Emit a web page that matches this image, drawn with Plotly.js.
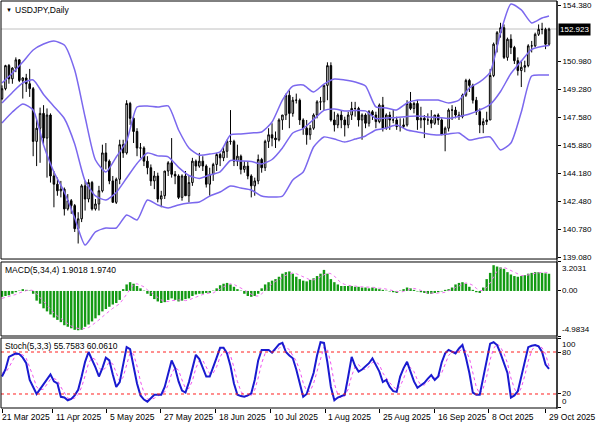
<!DOCTYPE html>
<html>
<head>
<meta charset="utf-8">
<script src="https://cdn.plot.ly/plotly-3.0.1.min.js"></script>
<style>
html,body{margin:0;padding:0;background:#fff;}
#chart{width:596px;height:425px;}
</style>
</head>
<body>
<div id="chart"></div>
<script>
// ---------- DATA ----------
const tickLabels = ['21 Mar 2025','11 Apr 2025','5 May 2025','27 May 2025','18 Jun 2025','10 Jul 2025','1 Aug 2025','25 Aug 2025','16 Sep 2025','8 Oct 2025','29 Oct 2025'];
const tickBars = [0, 14.7, 30.3, 45.9, 61.8, 77.6, 93.3, 109.1, 125.0, 140.6, 157.0];

const open = [148.70,149.30,150.70,149.90,150.55,151.05,149.80,149.95,149.60,149.30,
146.10,146.90,147.80,146.30,147.70,144.00,143.50,143.10,143.20,142.00,
142.50,142.20,140.80,141.40,143.40,142.60,143.60,142.00,142.30,143.10,
145.40,144.90,143.70,142.40,143.80,145.90,145.40,148.40,147.50,146.70,
145.70,145.70,144.90,144.50,143.70,144.00,142.60,142.80,144.30,144.80,
144.10,144.00,142.70,144.00,142.80,143.60,144.90,144.60,144.90,144.60,
143.50,144.10,144.70,145.30,145.10,145.50,146.10,146.10,144.90,145.20,
144.40,144.60,144.00,143.40,143.70,145.00,144.50,146.10,146.50,146.30,
146.20,147.40,147.70,148.90,147.80,148.60,148.60,147.40,146.90,146.50,
146.90,147.70,148.50,148.50,149.50,150.70,147.40,147.10,147.70,147.40,
147.10,147.70,148.10,148.10,147.40,147.70,147.20,147.90,147.70,147.30,
148.30,146.90,147.70,147.40,147.40,147.00,147.00,147.10,148.40,148.10,
148.40,147.40,147.50,147.40,147.40,147.20,147.70,147.40,146.50,146.90,
148.00,148.00,147.70,147.60,148.90,149.80,149.50,148.60,147.90,147.10,
147.30,147.40,150.10,152.00,152.70,153.00,151.20,152.30,151.80,151.00,
150.40,150.60,150.70,151.90,151.90,152.60,152.90,152.90,152.00];
const high = [149.50,150.75,150.80,150.60,151.20,151.10,150.00,150.20,150.50,149.40,
147.40,148.15,148.30,148.10,147.80,144.30,143.90,143.70,143.30,142.90,
142.60,142.30,141.80,143.50,143.70,143.80,143.70,142.60,143.40,145.90,
146.00,145.00,144.00,143.90,146.20,146.20,148.60,148.50,147.70,146.90,
146.00,145.80,145.20,144.70,144.30,144.20,143.10,144.30,144.90,146.30,
144.30,144.10,144.10,144.30,144.00,145.10,145.00,145.40,145.20,144.70,
144.50,144.80,145.40,145.40,145.80,146.20,148.00,146.20,145.90,145.30,
144.90,144.90,144.10,143.90,145.30,145.10,146.20,146.90,147.20,146.70,
147.50,147.70,149.00,149.20,148.80,149.00,148.70,147.50,147.40,147.10,
147.80,148.60,148.80,149.50,150.90,150.90,147.90,147.80,148.00,147.60,
147.90,148.50,148.50,148.20,147.80,147.80,148.00,148.00,147.90,148.40,
148.80,147.80,147.90,148.00,147.60,147.50,147.50,148.60,149.10,148.50,
148.60,148.20,147.70,147.80,148.00,147.70,147.80,147.50,147.00,148.10,
148.30,148.20,147.90,149.00,149.90,149.90,149.60,148.80,148.10,147.50,
147.90,150.50,152.10,152.80,153.30,153.20,152.40,152.60,151.90,151.20,
151.00,151.00,152.00,152.20,152.70,153.20,153.30,153.00,153.00];
const low = [148.60,149.20,149.60,149.60,150.30,149.70,148.70,149.10,148.80,145.20,
144.60,144.80,145.90,143.90,143.60,142.10,142.80,142.70,141.60,141.90,
141.70,140.60,139.90,141.20,141.90,142.40,141.90,141.90,141.90,143.00,
144.40,143.50,142.40,142.30,143.50,145.10,145.30,147.10,146.00,145.20,
145.10,144.60,144.10,143.40,143.20,142.40,142.10,142.60,144.00,143.90,
143.50,142.60,142.50,142.80,142.40,143.40,144.30,144.50,144.30,143.30,
142.80,143.70,144.30,144.60,144.90,145.10,145.90,144.60,144.60,144.10,
144.20,143.80,142.70,142.80,143.50,144.20,144.30,145.70,145.80,145.70,
146.10,146.80,147.40,146.90,147.60,148.40,147.10,146.50,145.90,146.20,
146.80,147.50,148.00,148.00,148.60,147.30,146.70,146.90,146.90,146.40,
146.90,147.40,147.60,147.00,146.20,146.90,147.00,147.40,146.90,147.20,
146.70,146.80,146.80,147.20,146.80,146.70,146.90,147.00,148.00,147.80,
146.80,146.90,146.30,147.10,146.90,147.10,147.10,146.50,145.50,146.70,
147.40,147.50,147.40,147.50,148.80,149.10,148.40,147.70,146.60,146.60,
147.10,147.40,150.00,151.50,152.40,151.10,151.00,151.40,150.80,150.10,
149.40,150.30,150.60,151.50,151.80,152.50,152.60,151.70,151.90];
const close = [149.30,150.70,149.90,150.55,151.05,149.80,149.95,149.60,149.30,146.10,
146.90,147.80,146.30,147.70,144.00,143.50,143.10,143.20,142.00,142.50,
142.20,140.80,141.40,143.40,142.60,143.60,142.00,142.30,143.10,145.40,
144.90,143.70,142.40,143.80,145.90,145.40,148.40,147.50,146.70,145.70,
145.70,144.90,144.50,143.70,144.00,142.60,142.80,144.30,144.80,144.10,
144.00,142.70,144.00,142.80,143.60,144.90,144.60,144.90,144.60,143.50,
144.10,144.70,145.30,145.10,145.50,146.10,146.10,144.90,145.20,144.40,
144.60,144.00,143.40,143.70,145.00,144.50,146.10,146.50,146.30,146.20,
147.40,147.70,148.90,147.80,148.60,148.60,147.40,146.90,146.50,146.90,
147.70,148.50,148.50,149.50,150.70,147.40,147.10,147.70,147.40,147.10,
147.70,148.10,148.10,147.40,147.70,147.20,147.90,147.70,147.30,148.30,
146.90,147.70,147.40,147.40,147.00,147.00,147.10,148.40,148.10,148.40,
147.40,147.50,147.40,147.40,147.20,147.70,147.40,146.50,146.90,148.00,
148.00,147.70,147.60,148.90,149.80,149.50,148.60,147.90,147.10,147.30,
147.40,150.10,152.00,152.70,153.00,151.20,152.30,151.80,151.00,150.40,
150.60,150.70,151.90,151.90,152.60,152.90,152.90,152.00,152.92];

const bandBars = [0,3,6,9,12,15,18,21,24,27,30,33,36,39,42,45,48,51,54,57,60,63,66,69,72,75,78,81,84,87,90,93,96,99,102,105,108,111,114,117,120,123,126,129,132,135,138,141,144,147,150,153,156,158];
const bbUpper = [149.64,150.25,150.92,151.65,152.01,152.19,151.95,150.43,147.58,144.97,144.24,145.15,146.12,148.19,148.25,148.19,148.25,146.79,145.70,145.27,145.33,145.46,146.49,146.55,146.61,146.67,147.28,148.61,149.46,149.52,149.10,149.58,149.89,149.83,149.71,149.46,148.19,148.13,148.01,148.43,148.61,148.61,148.61,148.43,148.61,149.34,149.71,150.31,152.68,154.44,154.08,153.29,153.59,153.71];
const bbMiddle = [148.43,149.07,149.65,149.83,148.95,148.22,147.49,145.94,143.70,142.79,142.54,143.00,143.88,144.76,145.40,145.22,145.16,144.52,144.03,143.85,144.06,144.25,144.94,144.91,144.88,144.73,145.00,145.70,146.61,146.88,147.43,147.98,148.07,147.95,147.98,147.95,147.49,147.52,147.55,147.61,147.64,147.58,147.55,147.49,147.61,147.76,148.01,148.34,149.13,150.22,150.98,151.68,151.86,151.92];
const bbLower = [147.22,147.88,148.37,148.01,145.88,144.24,143.03,141.45,139.81,140.60,140.84,140.84,141.63,141.33,142.54,142.24,142.06,142.24,142.36,142.42,142.78,143.03,143.39,143.27,143.15,142.78,142.72,142.78,143.76,144.24,145.76,146.37,146.24,146.06,146.24,146.43,146.79,146.91,147.09,146.79,146.67,146.55,146.49,146.55,146.61,146.18,146.30,146.37,145.58,146.00,147.88,150.07,150.13,150.13];

const macdMain = [-0.65,-0.56,-0.48,-0.31,-0.14,0.04,0.20,0.12,0.04,-0.31,
-1.07,-1.41,-1.92,-2.26,-2.60,-2.94,-3.20,-3.45,-3.79,-3.96,
-4.13,-4.30,-4.35,-4.30,-3.96,-3.71,-3.37,-3.03,-2.69,-2.26,
-2.00,-1.75,-1.50,-1.33,-0.99,0.20,0.72,0.97,0.80,0.55,
0.29,0.04,-0.31,-0.56,-0.90,-1.16,-1.33,-1.24,-0.99,-0.82,
-0.99,-1.16,-1.07,-0.90,-0.82,-0.56,-0.39,-0.31,-0.31,-0.22,
-0.22,0.04,0.29,0.63,0.80,0.89,0.72,0.46,0.20,0.04,
-0.31,-0.56,-0.65,-0.56,-0.31,0.29,0.72,0.97,1.14,1.31,
1.57,1.91,2.08,2.16,1.91,1.57,1.31,1.14,1.06,1.23,
1.40,1.65,1.91,2.33,1.91,1.31,0.97,0.72,0.55,0.55,
0.55,0.55,0.46,0.46,0.38,0.38,0.29,0.38,0.29,0.20,
0.12,0.04,-0.05,-0.14,-0.22,0.04,0.20,0.38,0.29,0.12,
-0.05,-0.14,-0.22,-0.31,-0.31,-0.22,-0.14,-0.05,0.12,0.20,
0.38,0.72,0.89,0.97,0.80,0.46,0.12,-0.14,-0.22,0.38,
1.31,2.00,2.85,2.70,2.60,2.45,2.08,1.82,1.65,1.57,
1.65,1.74,1.91,2.00,2.08,2.08,2.00,1.95,1.9018];
const macdSignal = [-0.82,-0.73,-0.65,-0.48,-0.39,-0.22,-0.05,0.04,0.12,0.04,
-0.31,-0.73,-1.16,-1.67,-2.09,-2.43,-2.77,-3.03,-3.37,-3.62,
-3.88,-4.05,-4.13,-4.22,-4.13,-4.05,-3.79,-3.54,-3.20,-2.86,
-2.52,-2.18,-1.92,-1.67,-1.41,-0.90,-0.39,0.20,0.72,0.80,
0.63,0.46,0.12,-0.14,-0.48,-0.73,-0.99,-1.16,-1.16,-1.07,
-0.99,-0.99,-0.99,-1.07,-0.99,-0.82,-0.65,-0.56,-0.39,-0.31,
-0.22,-0.22,-0.05,0.20,0.46,0.63,0.80,0.72,0.55,0.38,
0.12,-0.14,-0.39,-0.56,-0.56,-0.31,0.04,0.46,0.80,1.06,
1.23,1.48,1.74,1.91,2.00,1.91,1.74,1.48,1.31,1.23,
1.23,1.31,1.57,1.82,2.00,1.91,1.65,1.23,0.89,0.72,
0.63,0.55,0.55,0.46,0.46,0.46,0.38,0.38,0.38,0.29,
0.29,0.20,0.12,0.04,-0.05,-0.14,-0.05,0.12,0.20,0.29,
0.20,0.04,-0.05,-0.22,-0.22,-0.31,-0.22,-0.22,-0.14,0.04,
0.12,0.38,0.55,0.72,0.89,0.80,0.63,0.29,0.04,0.04,
0.38,0.89,1.60,2.20,2.50,2.60,2.45,2.25,2.05,1.85,
1.70,1.70,1.75,1.85,1.95,2.02,2.05,2.05,1.974];

const stochMain = [45,55,73,76,78,77,72,64,40,30,
20,27,34,40,48,38,35,16,15,11,
13,18,26,45,66,80,70,58,45,57,
72,68,48,30,37,65,87,84,60,35,
18,12,9,14,19,19,19,30,50,68,
57,38,25,22,37,58,76,70,58,45,
45,60,72,86,86,78,60,35,19,17,
16,18,21,40,68,83,83,83,79,85,
91,93,80,75,71,55,37,16,20,35,
50,75,94,93,65,30,11,15,17,19,
45,73,60,52,55,59,64,71,62,52,
37,40,30,24,23,45,57,66,52,38,
29,33,36,42,47,40,45,65,78,83,
80,78,85,90,72,50,22,19,19,45,
70,92,94,90,78,65,50,15,18,24,
45,70,87,89,90,88,80,62,55.7583];
const stochSignal = [50,50,58,68,76,77,76,71,59,45,
30,26,27,34,41,42,40,30,22,14,
13,14,19,30,46,64,72,69,58,53,
58,66,63,49,38,44,63,79,77,60,
38,22,13,12,14,17,19,23,33,49,
58,54,40,28,28,39,57,68,68,58,
49,50,59,73,81,83,75,58,38,24,
17,17,18,26,43,64,78,83,82,82,
85,90,88,83,75,67,54,36,24,24,
35,53,73,87,84,63,35,19,14,17,
27,46,59,62,56,55,59,65,66,62,
50,43,36,31,26,31,42,56,58,52,
40,33,33,37,42,43,44,50,63,75,
80,80,81,84,82,71,48,30,20,28,
45,69,85,92,87,78,64,43,28,19,
29,46,67,82,89,89,86,77,60.061];

// ---------- CHART ----------
const bars = close.map((_, i) => i);
const FONT = 'Liberation Sans, Arial, sans-serif';
const BAND = '#7b68ee';

const traces = [
  {type:'scatter', mode:'lines', x:bandBars, y:bbUpper, xaxis:'x', yaxis:'y', line:{color:BAND, width:1.5, shape:'spline', smoothing:0.6}, hoverinfo:'skip'},
  {type:'scatter', mode:'lines', x:bandBars, y:bbMiddle, xaxis:'x', yaxis:'y', line:{color:BAND, width:1.5, shape:'spline', smoothing:0.6}, hoverinfo:'skip'},
  {type:'scatter', mode:'lines', x:bandBars, y:bbLower, xaxis:'x', yaxis:'y', line:{color:BAND, width:1.5, shape:'spline', smoothing:0.6}, hoverinfo:'skip'},
  {type:'candlestick', x:bars, open:open, high:high, low:low, close:close, xaxis:'x', yaxis:'y',
   increasing:{line:{color:'#000000', width:1}, fillcolor:'#ffffff'},
   decreasing:{line:{color:'#000000', width:1}, fillcolor:'#000000'},
   whiskerwidth:0, hoverinfo:'skip'},
  {type:'bar', x:bars, y:macdMain, xaxis:'x2', yaxis:'y2', marker:{color:'#139a13', line:{width:0}}, hoverinfo:'skip'},
  {type:'scatter', mode:'lines', x:bars, y:macdSignal, xaxis:'x2', yaxis:'y2', line:{color:'#f070f0', width:1, dash:'dot'}, hoverinfo:'skip'},
  {type:'scatter', mode:'lines', x:bars, y:stochSignal, xaxis:'x3', yaxis:'y3', line:{color:'#f050f0', width:1, dash:'dot'}, hoverinfo:'skip'},
  {type:'scatter', mode:'lines', x:bars, y:stochMain, xaxis:'x3', yaxis:'y3', line:{color:'#1a1ad0', width:2}, hoverinfo:'skip'}
];

const xr = [-0.29, 160.31];
const xBase = {range:xr, showgrid:false, zeroline:false, showticklabels:false, ticks:'', showline:false, fixedrange:true};
const yBase = {side:'right', showgrid:false, zeroline:false, showline:false, fixedrange:true,
  tickfont:{family:FONT, size:8, color:'#000'}, ticks:'outside', ticklen:3, tickcolor:'#000'};

const mainTicks = [139.08,140.78,142.48,144.18,145.88,147.58,149.28,150.98,154.38];

const annotations = [
  {xref:'paper', yref:'paper', x:0, y:1, xanchor:'left', yanchor:'top', xshift:3, yshift:-4, text:'▼', showarrow:false, font:{family:FONT, size:6, color:'#000'}},
  {xref:'paper', yref:'paper', x:0, y:1, xanchor:'left', yanchor:'top', xshift:12, yshift:-2, text:'USDJPY,Daily', showarrow:false, font:{family:FONT, size:8.5, color:'#000'}},
  {xref:'paper', yref:'y2 domain', x:0, y:1, xanchor:'left', yanchor:'top', xshift:2, yshift:-1, text:'MACD(5,34,4) 1.9018 1.9740', showarrow:false, font:{family:FONT, size:8.5, color:'#000'}},
  {xref:'paper', yref:'y3 domain', x:0, y:1, xanchor:'left', yanchor:'top', xshift:2, yshift:-1, text:'Stoch(5,3,3) 55.7583 60.0610', showarrow:false, font:{family:FONT, size:8.5, color:'#000'}},
  {xref:'paper', yref:'y', x:1, y:152.923, xanchor:'left', yanchor:'middle', xshift:1, text:'152.923', showarrow:false, bgcolor:'#000', borderpad:1, font:{family:FONT, size:8, color:'#fff'}},
  {xref:'paper', yref:'y2 domain', x:1, y:1, xanchor:'left', yanchor:'top', xshift:3, text:'3.2031', showarrow:false, font:{family:FONT, size:8, color:'#000'}},
  {xref:'paper', yref:'y2', x:1, y:0, xanchor:'left', yanchor:'middle', xshift:3, text:'0.00', showarrow:false, font:{family:FONT, size:8, color:'#000'}},
  {xref:'paper', yref:'y2 domain', x:1, y:0, xanchor:'left', yanchor:'bottom', xshift:3, text:'-4.9834', showarrow:false, font:{family:FONT, size:8, color:'#000'}},
  {xref:'paper', yref:'y3 domain', x:1, y:1, xanchor:'left', yanchor:'top', xshift:3, text:'100', showarrow:false, font:{family:FONT, size:8, color:'#000'}},
  {xref:'paper', yref:'y3', x:1, y:80, xanchor:'left', yanchor:'middle', xshift:3, text:'80', showarrow:false, font:{family:FONT, size:8, color:'#000'}},
  {xref:'paper', yref:'y3', x:1, y:20, xanchor:'left', yanchor:'middle', xshift:3, text:'20', showarrow:false, font:{family:FONT, size:8, color:'#000'}},
  {xref:'paper', yref:'y3 domain', x:1, y:0, xanchor:'left', yanchor:'bottom', xshift:3, text:'0', showarrow:false, font:{family:FONT, size:8, color:'#000'}}
];
tickLabels.forEach((t, k) => {
  annotations.push({xref:'x3', yref:'paper', x:tickBars[k], y:0, xanchor:'left', yanchor:'top', xshift:(k === 0 ? -2 : 1), yshift:-1, text:t, showarrow:false, font:{family:FONT, size:8.5, color:'#000'}});
});

const shapes = [
  {type:'line', xref:'paper', yref:'y', x0:0, x1:1, y0:152.923, y1:152.923, line:{color:'#c0c0c0', width:1}, layer:'below'},
  {type:'line', xref:'paper', yref:'y3', x0:0, x1:1, y0:80, y1:80, line:{color:'#ff2020', width:1, dash:'dot'}},
  {type:'line', xref:'paper', yref:'y3', x0:0, x1:1, y0:20, y1:20, line:{color:'#ff2020', width:1, dash:'dot'}},
  {type:'rect', xref:'paper', yref:'y domain', x0:0, x1:1, y0:0, y1:1, line:{color:'#000', width:1}},
  {type:'rect', xref:'paper', yref:'y2 domain', x0:0, x1:1, y0:0, y1:1, line:{color:'#000', width:1}},
  {type:'rect', xref:'paper', yref:'y3 domain', x0:0, x1:1, y0:0, y1:1, line:{color:'#000', width:1}},
  {type:'line', xref:'paper', yref:'paper', x0:1, x1:1, y0:0, y1:1, line:{color:'#000', width:1}}
];

const layout = {
  width:596, height:425,
  margin:{l:1, r:39, t:1, b:16},
  paper_bgcolor:'#ffffff', plot_bgcolor:'#ffffff',
  showlegend:false, bargap:0.3, boxgap:0.35,
  font:{family:FONT, size:8, color:'#000'},
  xaxis:Object.assign({}, xBase, {anchor:'y', rangeslider:{visible:false}}),
  xaxis2:Object.assign({}, xBase, {anchor:'y2', matches:'x'}),
  xaxis3:Object.assign({}, xBase, {anchor:'y3', matches:'x', ticks:'outside', ticklen:4, tickcolor:'#000', tickvals:tickBars}),
  yaxis:Object.assign({}, yBase, {anchor:'x', domain:[0.3676, 1], range:[138.958, 154.623], tickvals:mainTicks, tickformat:'.3f'}),
  yaxis2:Object.assign({}, yBase, {anchor:'x2', domain:[0.1789, 0.3603], range:[-4.9834, 3.2031], tickvals:[3.2031, 0, -4.9834], showticklabels:false}),
  yaxis3:Object.assign({}, yBase, {anchor:'x3', domain:[0.00245, 0.174], range:[0, 100], tickvals:[100, 80, 20, 0], showticklabels:false}),
  annotations:annotations,
  shapes:shapes
};

Plotly.newPlot('chart', traces, layout, {staticPlot:true, displayModeBar:false});
</script>
</body>
</html>
